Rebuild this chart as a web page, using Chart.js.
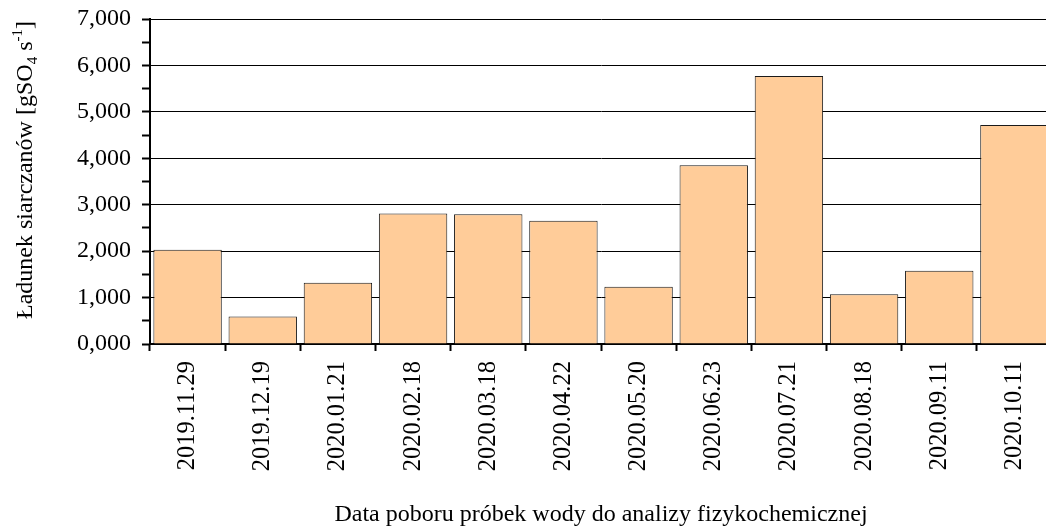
<!DOCTYPE html>
<html>
<head>
<meta charset="utf-8">
<script src="https://cdn.jsdelivr.net/npm/chart.js@4/dist/chart.umd.min.js"></script>
<style>
  html, body { margin: 0; padding: 0; background: #fff; overflow: hidden; }
  #wrap { width: 1058px; height: 527px; }
</style>
</head>
<body>
<div id="wrap"><canvas id="c" width="1058" height="527"></canvas></div>
<script>
// Sampling dates
const categories = ['2019.11.29', '2019.12.19', '2020.01.21', '2020.02.18', '2020.03.18', '2020.04.22',
                    '2020.05.20', '2020.06.23', '2020.07.21', '2020.08.18', '2020.09.11', '2020.10.11'];
// Sulphate load [gSO4 s-1]
const sulphateLoad = [2.028, 0.592, 1.318, 2.810, 2.795, 2.652, 1.231, 3.849, 5.774, 1.072, 1.576, 4.719];
// Value axis range and step
const yMin = 0;
const yMax = 7;
const yStep = 0.5;

const xTitle = 'Data poboru próbek wody do analizy fizykochemicznej';
const serif = '"Liberation Serif", "Times New Roman", serif';

const isMajor = v => Math.abs(v - Math.round(v)) < 1e-9;

// Axis titles (the y title carries a subscript and a superscript)
const titlesPlugin = {
  id: 'axisTitles',
  afterDraw(chart) {
    const ctx = chart.ctx;
    const area = chart.chartArea;
    ctx.save();
    ctx.fillStyle = '#000';
    ctx.textBaseline = 'alphabetic';
    // x title
    ctx.font = '24px ' + serif;
    ctx.textAlign = 'center';
    ctx.fillText(xTitle, (area.left + area.right) / 2, 521);

    // y title, rotated
    const F = 24, S = 15;
    const parts = [
      { t: 'Ładunek siarczanów [gSO', size: F, dy: 0 },
      { t: '4', size: S, dy: 5 },
      { t: ' s', size: F, dy: 0 },
      { t: '-1', size: S, dy: -10 },
      { t: ']', size: F, dy: 0 }
    ];
    let total = 0;
    parts.forEach(p => { ctx.font = p.size + 'px ' + serif; p.w = ctx.measureText(p.t).width; total += p.w; });
    ctx.translate(32, 170);
    ctx.rotate(-Math.PI / 2);
    ctx.textAlign = 'left';
    let x = -total / 2;
    parts.forEach(p => {
      ctx.font = p.size + 'px ' + serif;
      ctx.fillText(p.t, x, p.dy);
      x += p.w;
    });
    ctx.restore();
  }
};

new Chart(document.getElementById('c'), {
  type: 'bar',
  data: {
    labels: categories,
    datasets: [{
      data: sulphateLoad,
      backgroundColor: '#FFCC99',
      borderColor: '#1a1a1a',
      borderWidth: 1,
      barPercentage: 0.91,
      categoryPercentage: 1.0
    }]
  },
  options: {
    responsive: false,
    animation: false,
    devicePixelRatio: 1,
    layout: { padding: { top: 19, right: 6, bottom: 0, left: 0 } },
    plugins: { legend: { display: false }, tooltip: { enabled: false } },
    scales: {
      x: {
        type: 'category',
        offset: true,
        grid: {
          offset: true,
          drawOnChartArea: false,
          drawTicks: true,
          tickLength: 7,
          tickColor: '#000',
          tickWidth: 2
        },
        border: { display: true, color: '#000', width: 2 },
        ticks: {
          autoSkip: false,
          maxRotation: 90,
          minRotation: 90,
          padding: 10,
          color: '#000',
          font: { family: serif, size: 24.5 }
        },
        afterFit(scale) { scale.height = 183; }
      },
      y: {
        min: yMin,
        max: yMax,
        grid: {
          color: c => (c.tick && isMajor(c.tick.value)) ? '#000' : 'rgba(0,0,0,0)',
          lineWidth: 1,
          drawTicks: true,
          tickLength: 8,
          tickColor: '#000',
          tickWidth: 2
        },
        border: { display: true, color: '#000', width: 2 },
        ticks: {
          stepSize: yStep,
          autoSkip: false,
          padding: 11,
          color: '#000',
          font: { family: serif, size: 24 },
          callback: v => isMajor(v) ? Number(v).toFixed(3).replace('.', ',') : ''
        },
        afterFit(scale) {
          scale.width = 150;
          scale.paddingTop = 0;
          scale.paddingBottom = 0;
        }
      }
    }
  },
  plugins: [titlesPlugin]
});
</script>
</body>
</html>
